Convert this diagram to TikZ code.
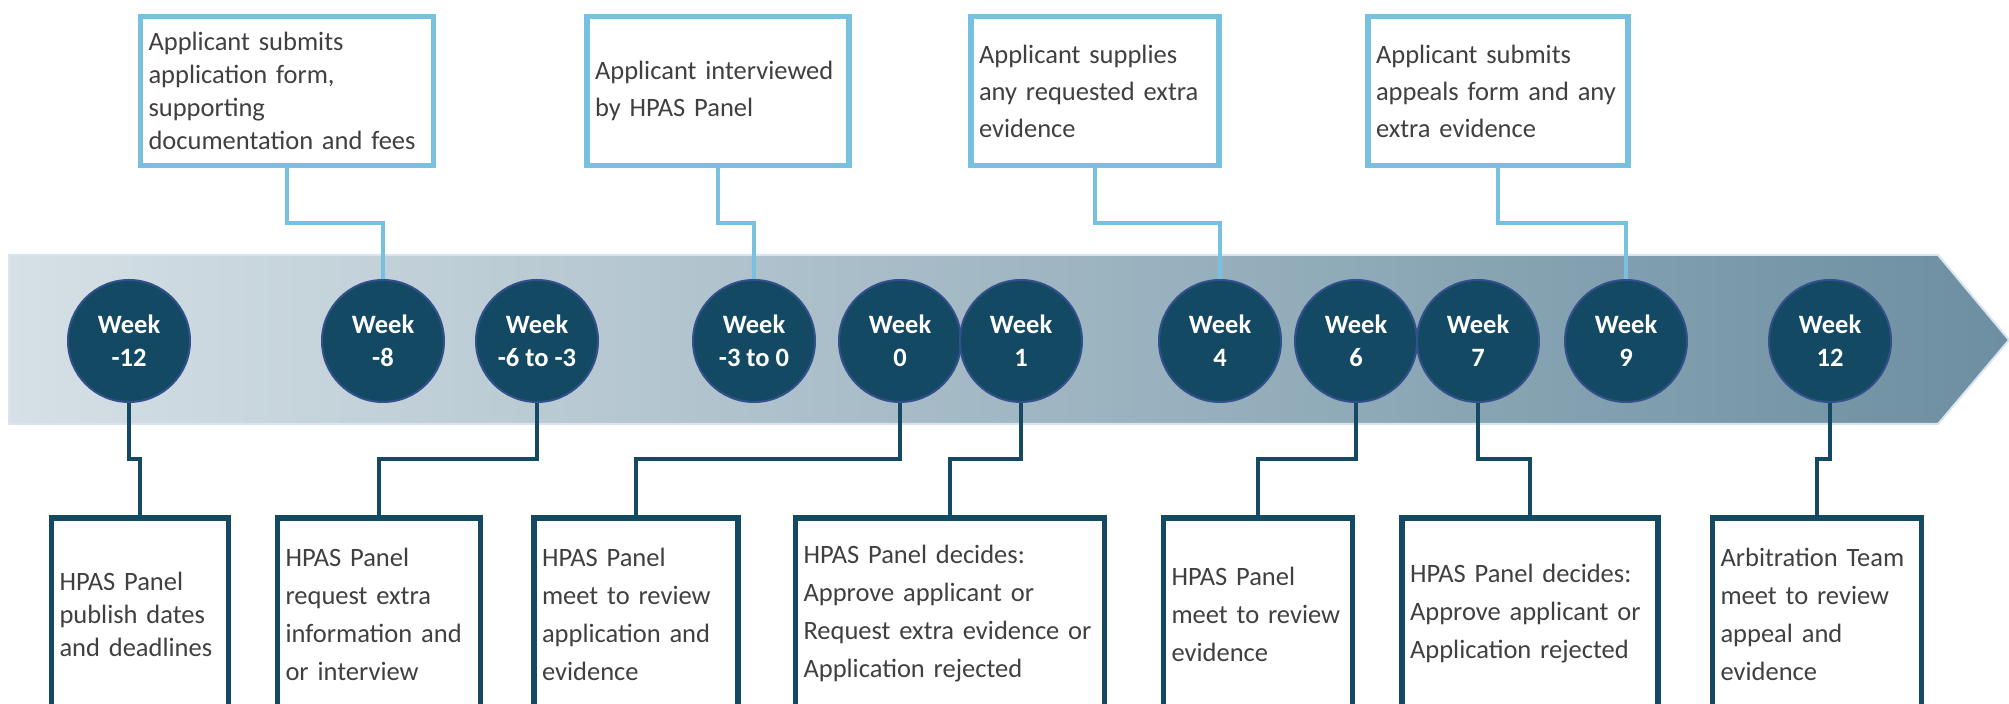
\documentclass[tikz,border=0pt]{standalone}
\usepackage{fontspec}
\setmainfont{Carlito}
\definecolor{darkteal}{RGB}{19,73,99}
\definecolor{ringblue}{RGB}{50,80,140}
\definecolor{skyline}{RGB}{120,192,224}
\definecolor{bandleft}{RGB}{214,224,230}
\definecolor{bandright}{RGB}{108,143,161}
\definecolor{bandedge}{RGB}{218,227,238}
\definecolor{bodytext}{RGB}{64,64,64}
\newcommand{\wk}[1]{Week\\#1}

\tikzset{
  week/.style={circle, fill=darkteal, draw=ringblue, line width=1pt,
    minimum size=61pt, inner sep=0pt, align=center, text=white,
    font=\bfseries\fontsize{13.25}{16.5}\selectfont},
  topbox/.style={draw=skyline, line width=2.75pt, fill=white, text=bodytext,
    align=left, text width=#1, minimum height=74.5pt, inner xsep=4pt,
    font=\fontsize{13.25}{18.5}\selectfont},
  botbox/.style={draw=darkteal, line width=2.75pt, fill=white, text=bodytext,
    align=left, text width=#1, minimum height=96pt, inner xsep=4pt,
    font=\fontsize{13.25}{19}\selectfont},
  tight/.style={font=\fontsize{13.25}{16.5}\selectfont},
  upline/.style={draw=skyline, line width=1.75pt},
  downline/.style={draw=darkteal, line width=1.75pt}
}

\begin{document}
\begin{tikzpicture}[x=0.5pt, y=-0.5pt]
    \useasboundingbox (0,0) rectangle (2009,704);
    \clip (0,0) rectangle (2009,704);

    % timeline band
    \shadedraw[left color=bandleft, right color=bandright, draw=bandedge, line width=1pt]
      (9,255) -- (1938,255) -- (2009,340) -- (1938,424) -- (9,424) -- cycle;

    \coordinate (jt) at (0,223);
    \coordinate (jb) at (0,459);

    % weeks
    \node[week] (w1)  at (129,341)  {\wk{-12}};
    \node[week] (w2)  at (383,341)  {\wk{-8}};
    \node[week] (w3)  at (537,341)  {\wk{-6 to -3}};
    \node[week] (w4)  at (754,341)  {\wk{-3 to 0}};
    \node[week] (w5)  at (900,341)  {\wk{0}};
    \node[week] (w6)  at (1021,341) {\wk{1}};
    \node[week] (w7)  at (1220,341) {\wk{4}};
    \node[week] (w8)  at (1356,341) {\wk{6}};
    \node[week] (w9)  at (1478,341) {\wk{7}};
    \node[week] (w10) at (1626,341) {\wk{9}};
    \node[week] (w11) at (1830,341) {\wk{12}};

    % applicant steps
    \node[topbox=138.5pt, tight] (top1) at (287,91)
      {Applicant submits\\application form,\\supporting\\documentation and fees};
    \node[topbox=123pt] (top2) at (718,91)
      {Applicant interviewed\\by HPAS Panel};
    \node[topbox=116pt] (top3) at (1095,91)
      {Applicant supplies\\any requested extra\\evidence};
    \node[topbox=122pt] (top4) at (1498,91)
      {Applicant submits\\appeals form and any\\extra evidence};

    % panel steps
    \node[botbox=80.5pt, tight] (bot1) at (140,614)
      {HPAS Panel\\publish dates\\and deadlines};
    \node[botbox=93.5pt] (bot2) at (379,614)
      {HPAS Panel\\request extra\\information and\\or interview};
    \node[botbox=94pt] (bot3) at (636,614)
      {HPAS Panel\\meet to review\\application and\\evidence};
    \node[botbox=146.5pt] (bot4) at (950,614)
      {HPAS Panel decides:\\Approve applicant or\\Request extra evidence or\\Application rejected};
    \node[botbox=86.5pt] (bot5) at (1258,614)
      {HPAS Panel\\meet to review\\evidence};
    \node[botbox=120pt] (bot6) at (1530,614)
      {HPAS Panel decides:\\Approve applicant or\\Application rejected};
    \node[botbox=96.5pt] (bot7) at (1817,614)
      {Arbitration Team\\meet to review\\appeal and\\evidence};

    % connectors
    \draw[upline] (top1.south) -- (top1.south |- jt) -| (w2.north);
    \draw[upline] (top2.south) -- (top2.south |- jt) -| (w4.north);
    \draw[upline] (top3.south) -- (top3.south |- jt) -| (w7.north);
    \draw[upline] (top4.south) -- (top4.south |- jt) -| (w10.north);

    \draw[downline] (w1.south) -- (w1.south |- jb) -| (bot1.north);
    \draw[downline] (w3.south) -- (w3.south |- jb) -| (bot2.north);
    \draw[downline] (w5.south) -- (w5.south |- jb) -| (bot3.north);
    \draw[downline] (w6.south) -- (w6.south |- jb) -| (bot4.north);
    \draw[downline] (w8.south) -- (w8.south |- jb) -| (bot5.north);
    \draw[downline] (w9.south) -- (w9.south |- jb) -| (bot6.north);
    \draw[downline] (w11.south) -- (w11.south |- jb) -| (bot7.north);
\end{tikzpicture}
\end{document}
